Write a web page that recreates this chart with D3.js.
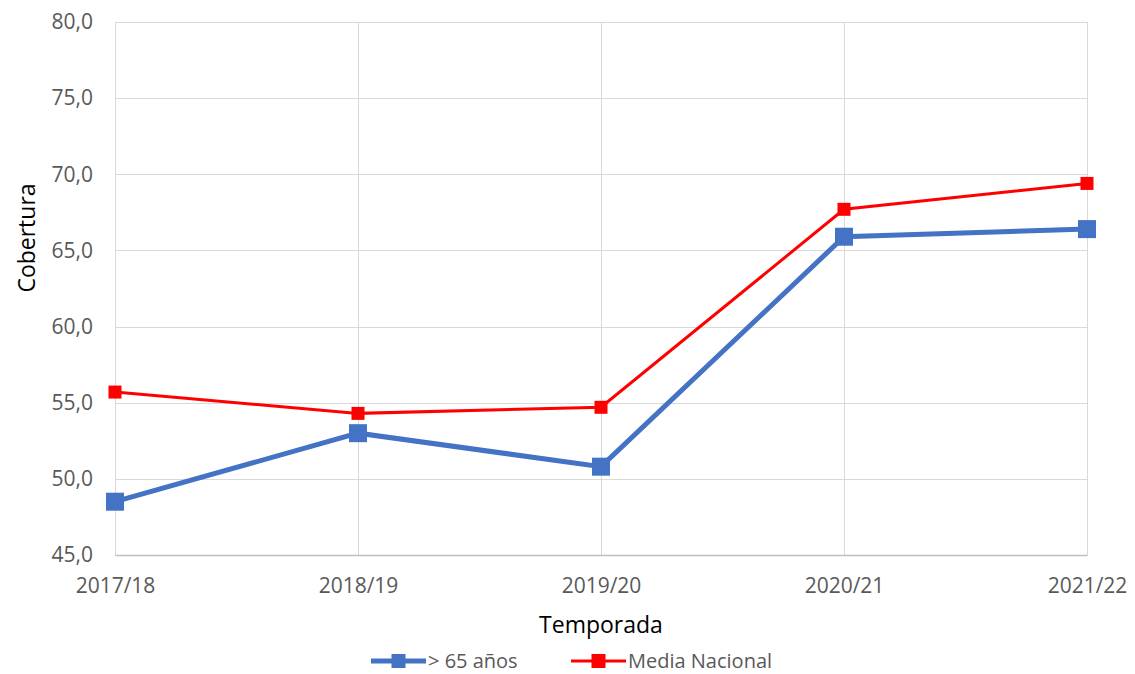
<!DOCTYPE html>
<head>
<meta charset="utf-8">
<script src="https://cdn.jsdelivr.net/npm/d3@7"></script>
<style>
body { margin: 0; background: #fff; font-family: "Open Sans", sans-serif; }
.grid line { stroke: #d9d9d9; stroke-width: 1; shape-rendering: crispEdges; }
.grid path { stroke-width: 0; }
.tick text { fill: #595959; font-size: 21px; font-family: "Open Sans", sans-serif; }
</style>
<body>
<div id="chart"></div>
<script>
// data
var seasons = ["2017/18", "2018/19", "2019/20", "2020/21", "2021/22"];
var mayores65 = [48.5, 53.0, 50.8, 65.9, 66.4];
var mediaNacional = [55.7, 54.3, 54.7, 67.7, 69.4];
var yTicks = [45, 50, 55, 60, 65, 70, 75, 80];

var margin = {top: 22, right: 48, bottom: 119, left: 115},
    width = 1135 - margin.left - margin.right,
    height = 674 - margin.top - margin.bottom;

var svg = d3.select("#chart").append("svg")
    .attr("width", 1135)
    .attr("height", 674)
  .append("g")
    .attr("transform", "translate(" + margin.left + "," + margin.top + ")");

var x = d3.scalePoint().domain(seasons).range([0, width]);
var y = d3.scaleLinear().domain([45, 80]).range([height, 0]);
var fmt = function(d) { return d3.format(".1f")(d).replace(".", ","); };

// gridlines
svg.append("g").attr("class", "grid")
    .call(d3.axisLeft(y).tickValues(yTicks).tickSize(-width).tickFormat(""));
svg.append("g").attr("class", "grid")
    .attr("transform", "translate(0," + height + ")")
    .call(d3.axisBottom(x).tickSize(-height).tickFormat(""));

// axes
var yAxis = svg.append("g")
    .call(d3.axisLeft(y).tickValues(yTicks).tickSize(0).tickPadding(22).tickFormat(fmt));
yAxis.select(".domain").remove();

var xAxis = svg.append("g")
    .attr("transform", "translate(0," + height + ")")
    .call(d3.axisBottom(x).tickSize(0).tickPadding(23));
xAxis.select(".domain").attr("stroke", "#bfbfbf").attr("stroke-width", 1.5);

// axis titles
svg.append("text")
    .attr("x", width / 2).attr("y", 633 - margin.top)
    .attr("text-anchor", "middle")
    .style("font-size", "23px").style("fill", "#000")
    .text("Temporada");
svg.append("text")
    .attr("transform", "rotate(-90)")
    .attr("x", -(238 - margin.top)).attr("y", 35 - margin.left)
    .attr("text-anchor", "middle")
    .style("font-size", "23px").style("fill", "#000")
    .text("Cobertura");

var series = [
  {name: "> 65 años", values: mayores65, color: "#4472C4", sw: 5, ms: 18},
  {name: "Media Nacional", values: mediaNacional, color: "#FF0000", sw: 3, ms: 13}
];

var line = d3.line()
    .x(function(d, i) { return x(seasons[i]); })
    .y(function(d) { return y(d); });

series.forEach(function(s) {
  svg.append("path")
      .datum(s.values)
      .attr("fill", "none")
      .attr("stroke", s.color)
      .attr("stroke-width", s.sw)
      .attr("d", line);
  svg.selectAll(null).data(s.values).enter().append("rect")
      .attr("x", function(d, i) { return x(seasons[i]) - s.ms / 2; })
      .attr("y", function(d) { return y(d) - s.ms / 2; })
      .attr("width", s.ms).attr("height", s.ms)
      .attr("fill", s.color);
});

// legend
var legendX = [371 - margin.left, 571 - margin.left];
var ly = 661 - margin.top;
series.forEach(function(s, i) {
  var g = svg.append("g").attr("transform", "translate(" + legendX[i] + "," + ly + ")");
  g.append("line").attr("x1", 0).attr("x2", 55).attr("y1", 0).attr("y2", 0)
      .attr("stroke", s.color).attr("stroke-width", s.sw);
  g.append("rect").attr("x", 20.5).attr("y", -7).attr("width", 14).attr("height", 14)
      .attr("fill", s.color);
  g.append("text").attr("x", 57).attr("y", 0).attr("dy", "0.35em")
      .style("font-size", "20px").style("fill", "#595959")
      .text(s.name);
});
</script>
</body>
